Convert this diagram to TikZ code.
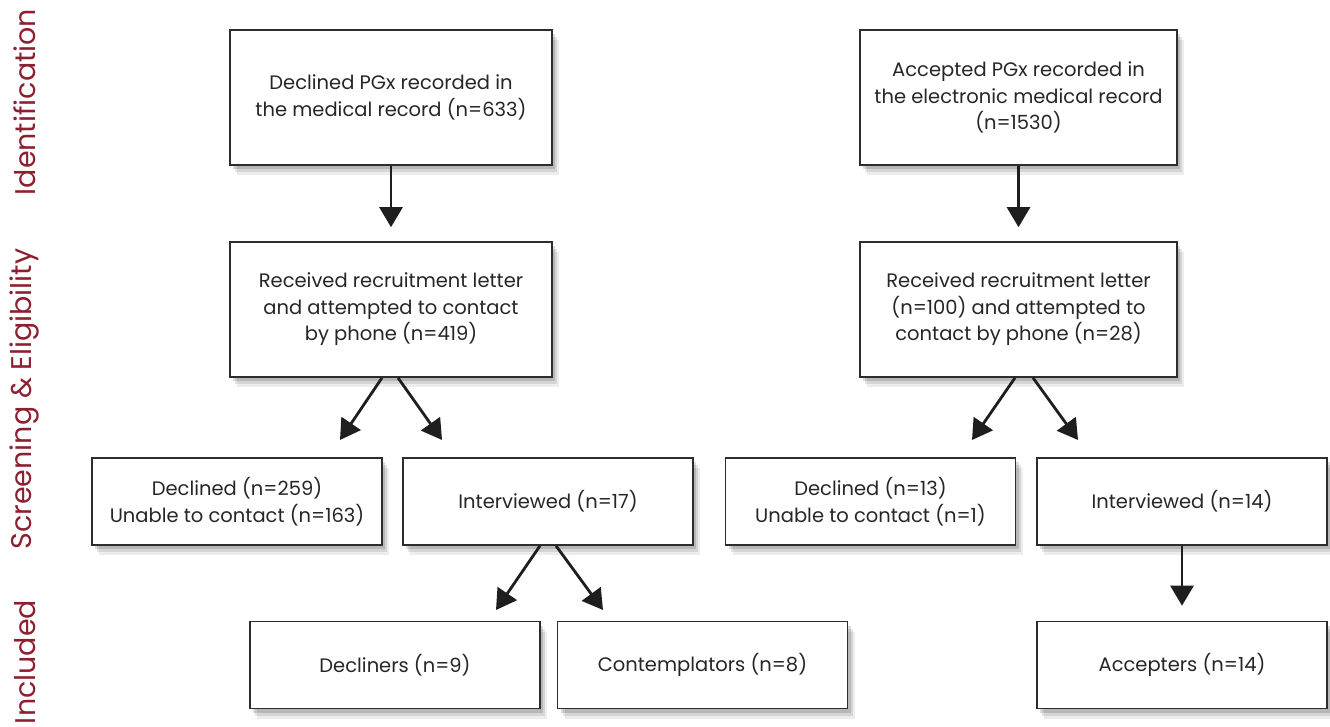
\documentclass[tikz,border=0pt]{standalone}
\usepackage{fontspec}
\setmainfont{Poppins}
\usepackage{tikz}
\usepackage{xcolor}
\usetikzlibrary{positioning, arrows.meta, shadows}
\definecolor{stagered}{RGB}{140, 32, 48}
\definecolor{boxline}{RGB}{45, 45, 45}
\definecolor{arrowblack}{RGB}{30, 30, 30}
\tikzset{
    flowbox/.style={rectangle, draw=boxline, line width=1.6pt, fill=white, align=center, inner sep=0pt,
        font=\fontsize{19.5}{26.5}\selectfont, text=black!85,
        drop shadow={shadow xshift=7pt, shadow yshift=-10pt, fill=black, opacity=0.07},
        drop shadow={shadow xshift=5pt, shadow yshift=-7pt, fill=black, opacity=0.10},
        drop shadow={shadow xshift=3pt, shadow yshift=-4pt, fill=black, opacity=0.14}},
    bigbox/.style={flowbox, minimum width=322pt, minimum height=135pt},
    smallbox/.style={flowbox, minimum width=290pt, minimum height=87pt},
    stagelabel/.style={rotate=90, text=stagered, font=\fontsize{28.5}{28.5}\selectfont},
    flowarrow/.style={draw=arrowblack, line width=2.8pt, -{Triangle[length=20pt, width=23pt]}}
}

\begin{document}
\begin{tikzpicture}[x=1pt, y=-1pt]
    \useasboundingbox (0,0) rectangle (1330,727);
    % stage labels
    \node[stagelabel] (ident) at (25,102) {Identification};
    \node[stagelabel] (screen) at (25,399) {Screening \& Eligibility};
    \node[stagelabel] (incl) at (25,662) {Included};
    % declined arm
    \node[bigbox] (decpgx) at (391,97.5) {Declined PGx recorded in\\the medical record (n=633)};
    \node[bigbox] (decletter) at (391,309.5) {Received recruitment letter\\and attempted to contact\\by phone (n=419)};
    \node[smallbox] (decdecl) at (237,501.5) {Declined (n=259)\\Unable to contact (n=163)};
    \node[smallbox] (decint) at (548,501.5) {Interviewed (n=17)};
    \node[smallbox] (decliners) at (395,665) {Decliners (n=9)};
    \node[smallbox] (contempl) at (702.5,665) {Contemplators (n=8)};
    % accepted arm
    \node[bigbox, minimum width=317pt] (accpgx) at (1018.5,97.5) {Accepted PGx recorded in\\the electronic medical record\\(n=1530)};
    \node[bigbox, minimum width=317pt] (accletter) at (1018.5,309.5) {Received recruitment letter\\(n=100) and attempted to\\contact by phone (n=28)};
    \node[smallbox] (accdecl) at (870.5,501.5) {Declined (n=13)\\Unable to contact (n=1)};
    \node[smallbox] (accint) at (1182,501.5) {Interviewed (n=14)};
    \node[smallbox] (accepters) at (1182,665) {Accepters (n=14)};
    % arrow tips
    \coordinate (tipdecdecl) at (340,440);
    \coordinate (tipdecint) at (442,440);
    \coordinate (tipdecliners) at (496,610);
    \coordinate (tipcontempl) at (603,610);
    \coordinate (tipaccdecl) at (972,440);
    \coordinate (tipaccint) at (1078,440);
    % arrows
    \draw[flowarrow, shorten >=14pt] (decpgx) -- (decletter);
    \draw[flowarrow, shorten >=14pt] (accpgx) -- (accletter);
    \draw[flowarrow] ([xshift=-9pt]decletter.south) -- (tipdecdecl);
    \draw[flowarrow] ([xshift=7pt]decletter.south) -- (tipdecint);
    \draw[flowarrow] ([xshift=-8pt]decint.south) -- (tipdecliners);
    \draw[flowarrow] ([xshift=8pt]decint.south) -- (tipcontempl);
    \draw[flowarrow] ([xshift=-3.5pt]accletter.south) -- (tipaccdecl);
    \draw[flowarrow] ([xshift=14.5pt]accletter.south) -- (tipaccint);
    \draw[flowarrow, shorten >=15pt] (accint) -- (accepters);
\end{tikzpicture}
\end{document}
